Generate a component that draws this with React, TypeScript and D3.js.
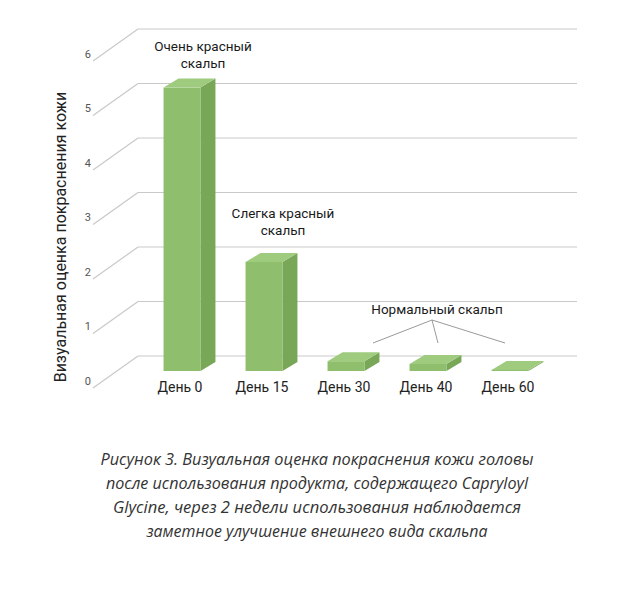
import React from "react";
import * as d3 from "d3";

const categories = ["День 0", "День 15", "День 30", "День 40", "День 60"];
const values = [5.2, 2.0, 0.18, 0.13, 0.02];
const yTicks = [0, 1, 2, 3, 4, 5, 6];
const yTitle = "Визуальная оценка покраснения кожи";
const captionLines = [
  "Рисунок 3. Визуальная оценка покраснения кожи головы",
  "после использования продукта, содержащего Capryloyl",
  "Glycine, через 2 недели использования наблюдается",
  "заметное улучшение внешнего вида скальпа",
];
const captionWidths = [433, 422, 408, 341];
const annotations = [
  { lines: ["Очень красный", "скальп"], x: 203, y: 47 },
  { lines: ["Слегка красный", "скальп"], x: 283, y: 214 },
  { lines: ["Нормальный скальп"], x: 437, y: 310 },
];
// pointer targets for "Нормальный скальп": category index + x offset
const pointerTargets = [
  { cat: 2, dx: 27 },
  { cat: 3, dx: 10 },
  { cat: 4, dx: -5 },
];

const W = 625;
const H = 595;
const backLeft = 138;
const backRight = 577;
const depthX = 45;
const depthY = 32;
const barDx = 15;
const barDy = -9;

export default function App() {
  const yBack = d3.scaleLinear().domain([0, 6]).range([356, 29]);
  const yBar = d3.scaleLinear().domain([0, 6]).range([371, 44]);
  const x = d3.scaleBand<string>().domain(categories).range([141, 551]).paddingInner(0.55).paddingOuter(0.275);
  const bw = x.bandwidth();

  const front = "#8fbf6c";
  const side = "#78a758";
  const top = "#9ecb7e";
  const grid = "#c9c9c9";

  return (
    <svg width={W} height={H} style={{ display: "block", position: "absolute", left: 0, top: 0 }}>
      <rect width={W} height={H} fill="#fff" />
      {yTicks.map((t) => (
        <g key={t}>
          <line x1={backLeft} x2={backRight} y1={yBack(t)} y2={yBack(t)} stroke={grid} strokeWidth={1.2} />
          <line x1={backLeft - depthX} y1={yBack(t) + depthY} x2={backLeft} y2={yBack(t)} stroke={grid} strokeWidth={1.2} />
          <text x={91} y={yBack(t) + 26} textAnchor="end" dominantBaseline="middle" fontFamily="Roboto" fontSize={11} fill="#555">
            {t}
          </text>
        </g>
      ))}
      {categories.map((c, i) => {
        const cx = (x(c) ?? 0) + bw / 2;
        const x0 = cx - bw / 2;
        const x1 = cx + bw / 2;
        const base = yBar(0);
        const yt = yBar(values[i]);
        return (
          <g key={c}>
            <polygon
              points={`${x1},${base} ${x1 + barDx},${base + barDy} ${x1 + barDx},${yt + barDy} ${x1},${yt}`}
              fill={side}
            />
            <rect x={x0} y={yt} width={bw} height={base - yt} fill={front} />
            <polygon
              points={`${x0},${yt} ${x0 + barDx},${yt + barDy} ${x1 + barDx},${yt + barDy} ${x1},${yt}`}
              fill={top}
            />
            <text x={cx - 2} y={388} textAnchor="middle" dominantBaseline="middle" fontFamily="Roboto" fontSize={14} fill="#222">
              {c}
            </text>
          </g>
        );
      })}
      {pointerTargets.map((p, i) => {
        const cx = (x(categories[p.cat]) ?? 0) + bw / 2 + p.dx;
        return (
          <line key={i} x1={432} y1={320} x2={cx} y2={yBack(0) - 13} stroke="#9a9a9a" strokeWidth={1} />
        );
      })}
      {annotations.map((a, i) => (
        <text key={i} textAnchor="middle" fontFamily="Roboto" fontSize={13.5} fill="#1a1a1a">
          {a.lines.map((l, j) => (
            <tspan key={j} x={a.x} y={a.y + j * 17} dominantBaseline="middle">
              {l}
            </tspan>
          ))}
        </text>
      ))}
      <text
        transform={`translate(62,237) rotate(-90)`}
        textAnchor="middle"
        dominantBaseline="middle"
        fontFamily="Roboto"
        fontSize={16}
        fill="#222"
      >
        {yTitle}
      </text>
      {captionLines.map((l, i) => (
        <text
          key={i}
          x={317}
          y={465 + i * 24}
          textAnchor="middle"
          fontFamily="'Open Sans'"
          fontStyle="italic"
          fontSize={16.5}
          fill="#333"
          textLength={captionWidths[i]}
          lengthAdjust="spacingAndGlyphs"
        >
          {l}
        </text>
      ))}
    </svg>
  );
}
